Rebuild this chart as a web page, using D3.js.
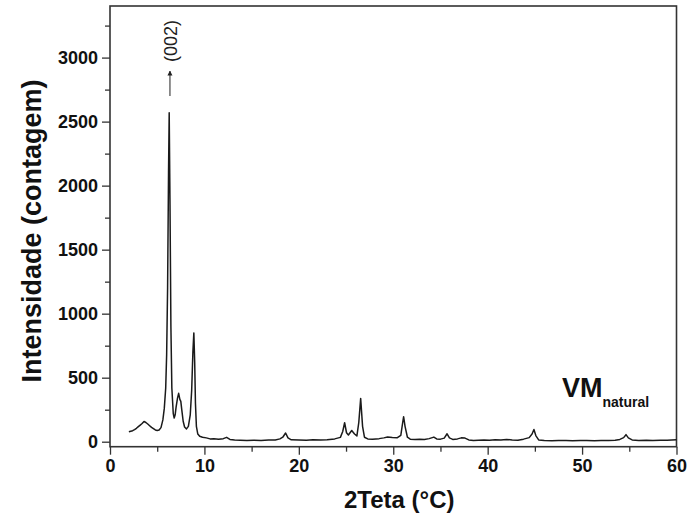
<!DOCTYPE html>
<html>
<head>
<meta charset="utf-8">
<script src="https://cdn.jsdelivr.net/npm/d3@7"></script>
<style>
  body { margin: 0; background: white; }
  text { font-family: "Liberation Sans", Arial, sans-serif; }
</style>
</head>
<body>
<script>
var width = 687;
var height = 517;
var margin = {top: 6, right: 10.5, bottom: 70.3, left: 110};

// 2Theta values (degrees) and intensities
var twoTheta = [2.0, 2.2, 2.4, 2.6, 2.8, 3.0, 3.2, 3.4, 3.6, 3.8, 4.0, 4.2, 4.4, 4.6, 4.8, 5.0, 5.2, 5.4, 5.6, 5.75,
  5.9, 6.0, 6.1, 6.2, 6.27, 6.35, 6.45, 6.55, 6.7, 6.8, 6.9, 7.0, 7.15, 7.27, 7.4, 7.5, 7.6, 7.75, 7.9, 8.1,
  8.3, 8.5, 8.65, 8.78, 8.88, 8.97, 9.05, 9.15, 9.3, 9.5, 9.8, 10.2, 10.6, 11.0, 11.5, 12.0, 12.35, 12.7, 13.2, 13.8,
  14.5, 15.2, 16.0, 16.8, 17.5, 18.0, 18.3, 18.6, 18.85, 19.2, 20.0, 20.8, 21.5, 22.3, 23.0, 23.8, 24.4, 24.65, 24.85, 25.05,
  25.25, 25.6, 25.9, 26.15, 26.35, 26.55, 26.75, 26.95, 27.3, 27.8, 28.5, 29.0, 29.4, 29.9, 30.4, 30.8, 31.0, 31.1, 31.25, 31.5,
  31.8, 32.3, 32.8, 33.3, 33.8, 34.3, 34.6, 35.0, 35.4, 35.7, 35.95, 36.3, 36.8, 37.2, 37.6, 38.0, 38.5, 39.0, 39.6, 40.2,
  40.8, 41.4, 42.0, 42.6, 43.2, 43.8, 44.4, 44.7, 44.9, 45.1, 45.4, 46.0, 46.8, 47.5, 48.3, 49.0, 49.8, 50.5, 51.3, 52.0,
  52.8, 53.5, 54.0, 54.4, 54.65, 54.9, 55.3, 56.0, 56.8, 57.5, 58.3, 59.0, 60.0];
var intensity = [78, 82, 86, 95, 105, 118, 130, 142, 158, 150, 138, 125, 112, 102, 92, 88, 92, 110, 170, 260,
  420, 680, 1200, 2100, 2570, 1900, 900, 420, 220, 185, 210, 270, 340, 378, 330, 315, 250, 160, 115, 100,
  120, 210, 400, 700, 850, 620, 300, 120, 60, 42, 35, 30, 22, 24, 20, 24, 34, 18, 14, 12,
  10, 12, 10, 13, 14, 22, 35, 68, 30, 15, 14, 12, 15, 13, 16, 22, 34, 80, 148, 70,
  52, 88, 60, 45, 150, 338, 120, 35, 22, 20, 24, 30, 36, 32, 30, 50, 150, 195, 120, 35,
  20, 18, 20, 17, 24, 36, 22, 20, 28, 62, 30, 18, 22, 30, 28, 14, 10, 12, 14, 12,
  16, 14, 18, 14, 12, 20, 32, 60, 96, 48, 14, 10, 8, 10, 9, 8, 10, 9, 8, 10,
  9, 12, 18, 32, 55, 30, 14, 10, 12, 10, 11, 12, 16];

var xMajor = [0, 10, 20, 30, 40, 50, 60];
var xMinor = [5, 15, 25, 35, 45, 55];
var yMajor = [0, 500, 1000, 1500, 2000, 2500, 3000];
var yMinor = [250, 750, 1250, 1750, 2250, 2750, 3250];

var data = twoTheta.map(function(t, i){ return {t: t, v: intensity[i]}; });

var plotW = width - margin.left - margin.right;
var plotH = height - margin.top - margin.bottom;

var svg = d3.select("body")
            .append("svg")
            .attr("width", width)
            .attr("height", height);

var xScale = d3.scaleLinear()
               .domain([0, 60])
               .range([margin.left, margin.left + plotW]);

var yScale = d3.scaleLinear()
               .domain([-39, 3403])
               .range([margin.top + plotH, margin.top]);

// minor ticks first, then labelled major ticks
svg.append("g")
   .attr("transform", "translate(0," + (margin.top + plotH) + ")")
   .call(d3.axisBottom(xScale).tickValues(xMinor).tickSize(5).tickFormat(""))
   .call(g => g.select(".domain").remove());

svg.append("g")
   .attr("transform", "translate(" + margin.left + ",0)")
   .call(d3.axisLeft(yScale).tickValues(yMinor).tickSize(5).tickFormat(""))
   .call(g => g.select(".domain").remove());

var xAxis = svg.append("g")
   .attr("transform", "translate(0," + (margin.top + plotH) + ")")
   .call(d3.axisBottom(xScale).tickValues(xMajor).tickSize(8).tickPadding(5).tickFormat(d3.format("d")));

var yAxis = svg.append("g")
   .attr("transform", "translate(" + margin.left + ",0)")
   .call(d3.axisLeft(yScale).tickValues(yMajor).tickSize(8).tickPadding(4).tickFormat(d3.format("d")));

[xAxis, yAxis].forEach(function(ax){
  ax.select(".domain").remove();
  ax.selectAll("text")
    .style("font-size", "18px")
    .style("font-weight", "bold")
    .attr("fill", "#111");
});

svg.selectAll(".tick line")
   .attr("stroke", "#333")
   .attr("stroke-width", 1.3);

// frame
svg.append("rect")
   .attr("x", margin.left)
   .attr("y", margin.top)
   .attr("width", plotW)
   .attr("height", plotH)
   .attr("fill", "none")
   .attr("stroke", "#333")
   .attr("stroke-width", 1.6);

var line = d3.line()
             .x(d => xScale(d.t))
             .y(d => yScale(d.v));

svg.append("path")
   .datum(data)
   .attr("d", line)
   .attr("fill", "none")
   .attr("stroke", "#1a1a1a")
   .attr("stroke-width", 1.5)
   .attr("stroke-linejoin", "round");

// axis titles
svg.append("text")
   .attr("x", xScale(30) + 6)
   .attr("y", 508)
   .attr("text-anchor", "middle")
   .style("font-size", "24px")
   .style("font-weight", "bold")
   .attr("fill", "#111")
   .text("2Teta (°C)");

svg.append("text")
   .attr("transform", "translate(41,231) rotate(-90)")
   .attr("text-anchor", "middle")
   .style("font-size", "27px")
   .style("font-weight", "bold")
   .attr("fill", "#111")
   .text("Intensidade (contagem)");

// (002) annotation with arrow
svg.append("defs")
   .append("marker")
   .attr("id", "arrow")
   .attr("viewBox", "0 0 10 10")
   .attr("refX", 9)
   .attr("refY", 5)
   .attr("markerWidth", 5)
   .attr("markerHeight", 6)
   .attr("orient", "auto")
   .append("path")
   .attr("d", "M0,0 L10,5 L0,10 z")
   .attr("fill", "#222");

svg.append("line")
   .attr("x1", xScale(6.35))
   .attr("x2", xScale(6.35))
   .attr("y1", yScale(2700))
   .attr("y2", yScale(2895))
   .attr("stroke", "#222")
   .attr("stroke-width", 1)
   .attr("marker-end", "url(#arrow)");

svg.append("text")
   .attr("transform", "translate(" + (xScale(6.35) + 7) + "," + yScale(3130) + ") rotate(-90)")
   .attr("text-anchor", "middle")
   .style("font-size", "18px")
   .attr("fill", "#222")
   .text("(002)");

// sample label
var lab = svg.append("text")
   .attr("x", 562)
   .attr("y", 397)
   .attr("fill", "#111")
   .style("font-weight", "bold");
lab.append("tspan").style("font-size", "27px").text("VM");
lab.append("tspan").attr("dy", 10).style("font-size", "14px").text("natural");
</script>
</body>
</html>
